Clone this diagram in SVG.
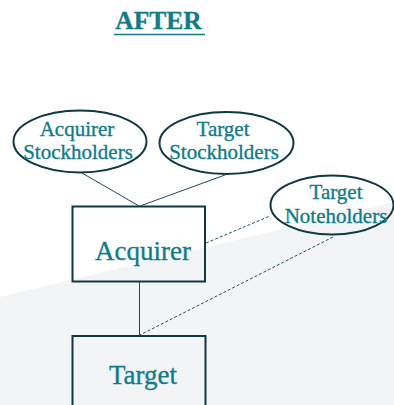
<svg xmlns="http://www.w3.org/2000/svg" width="394" height="405" viewBox="0 0 394 405">
<style>
.t{font-family:"Liberation Serif","Times New Roman",serif;fill:#127b89;stroke:#127b89;stroke-width:0.35;text-anchor:middle}
.s{font-size:21px}
.b{font-size:27px}
.shape{fill:none;stroke:#0f3843;stroke-width:2}
.ln{stroke:#1f4a55;stroke-width:1;fill:none}
.dash{stroke:#1f4f5c;stroke-width:1;stroke-dasharray:3 2;fill:none}
</style>
<rect width="394" height="405" fill="#ffffff"/>
<polygon points="0,297 394,202 394,405 0,405" fill="#f3f4f6"/>
<g id="title">
<text class="t" x="158.5" y="29" style="font-size:25.5px;font-weight:bold">AFTER</text>
<line x1="114" y1="34.5" x2="205" y2="34.5" stroke="#127b89" stroke-width="1.5"/>
</g>
<g id="connectors">
<line class="ln" x1="82" y1="173" x2="139" y2="206"/>
<line class="ln" x1="225" y1="175" x2="140" y2="206"/>
<line class="ln" x1="139.5" y1="281" x2="139.5" y2="336" stroke="#4f6f76"/>
<line class="dash" x1="206" y1="243" x2="270" y2="216"/>
<line class="dash" x1="333" y1="237" x2="140" y2="335"/>
</g>
<g id="acquirer-stockholders">
<ellipse class="shape" cx="80" cy="141.5" rx="66.5" ry="31"/>
<text class="t s" x="77" y="136">Acquirer</text>
<text class="t s" x="78" y="159">Stockholders</text>
</g>
<g id="target-stockholders">
<ellipse class="shape" cx="226.5" cy="143" rx="67" ry="31"/>
<text class="t s" x="223" y="136">Target</text>
<text class="t s" x="224" y="159">Stockholders</text>
</g>
<g id="target-noteholders">
<ellipse class="shape" cx="332" cy="205" rx="61.5" ry="29.5"/>
<text class="t s" x="336" y="199">Target</text>
<text class="t s" x="336" y="222.5">Noteholders</text>
</g>
<g id="acquirer">
<rect class="shape" x="72.5" y="206.5" width="132.5" height="75"/>
<text class="t b" x="143" y="260">Acquirer</text>
</g>
<g id="target">
<rect class="shape" x="72.5" y="336" width="133" height="80"/>
<text class="t b" x="143" y="384">Target</text>
</g>
</svg>
